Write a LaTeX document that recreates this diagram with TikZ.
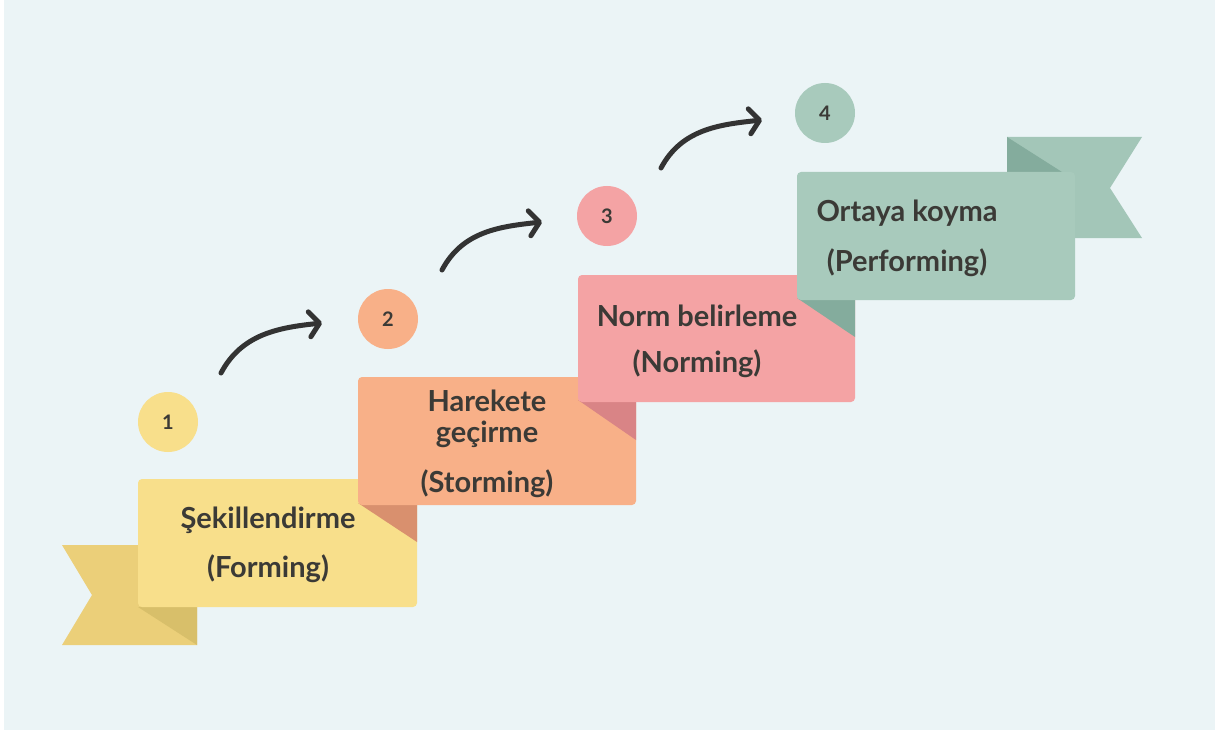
\documentclass[tikz,border=0pt]{standalone}
\usepackage{fontspec}
\newfontfamily\lato{Lato}
\usetikzlibrary{arrows.meta}
\definecolor{bg}{HTML}{EBF4F6}
\definecolor{ymain}{HTML}{F8DF8B}
\definecolor{ytail}{HTML}{EBCF79}
\definecolor{yfold}{HTML}{D8BF6A}
\definecolor{omain}{HTML}{F8B088}
\definecolor{ofold}{HTML}{D9906E}
\definecolor{pmain}{HTML}{F4A3A4}
\definecolor{pfold}{HTML}{D98486}
\definecolor{gmain}{HTML}{A8CABC}
\definecolor{gtail}{HTML}{A3C6B8}
\definecolor{gfold}{HTML}{84AC9D}
\definecolor{txt}{HTML}{3B3A36}
\definecolor{arr}{HTML}{333333}
\tikzset{
  lbl/.style={font=\lato\bfseries\fontsize{29}{32}\selectfont, text=txt, inner sep=0pt, anchor=base},
  num/.style={circle, minimum size=60pt, inner sep=0pt, font=\lato\bfseries\fontsize{20}{22}\selectfont, text=txt},
  mainrect/.style={rounded corners=4pt},
  arrowline/.style={draw=arr, line width=5pt, line cap=round, -{Straight Barb[length=10pt,width=25pt,line cap=round,line join=round]}}
}
\begin{document}
\begin{tikzpicture}[x=1pt,y=-1pt]
\useasboundingbox (0,0) rectangle (1223,730);
\fill[white] (0,0) rectangle (1223,730);
\fill[bg] (4,0) rectangle (1215,730);
% yellow ribbon
\fill[ytail] (62,545) -- (197,545) -- (197,645) -- (62,645) -- (92,595) -- cycle;
\fill[yfold] (138,607) -- (197,607) -- (197,645) -- cycle;
\fill[ymain, mainrect] (138,479) rectangle (417,607);
% orange
\fill[ofold] (358,503) -- (417,503) -- (417,542) -- cycle;
\fill[omain, mainrect] (358,377) rectangle (636,505);
% pink
\fill[pfold] (578,400) -- (636,400) -- (636,440) -- cycle;
\fill[pmain, mainrect] (578,275) rectangle (855,402);
% green
\fill[gtail] (1007,137) -- (1142,137) -- (1110,188) -- (1142,238) -- (1007,238) -- cycle;
\fill[gfold] (1007,137) -- (1007,172) -- (1062,172) -- cycle;
\fill[gfold] (797,298) -- (855,298) -- (855,337) -- cycle;
\fill[gmain, mainrect] (797,172) rectangle (1075,300);
% labels
\node[lbl] (t1a) at (268,528) {Şekillendirme};
\node[lbl] (t1b) at (268,577) {(Forming)};
\node[lbl] (t2a) at (487,411) {Harekete};
\node[lbl] (t2b) at (487,442) {geçirme};
\node[lbl] (t2c) at (487,492) {(Storming)};
\node[lbl] (t3a) at (697,326) {Norm belirleme};
\node[lbl] (t3b) at (697,372) {(Norming)};
\node[lbl] (t4a) at (907,222) {Ortaya koyma};
\node[lbl] (t4b) at (907,271) {(Performing)};
% numbers
\node[num, fill=ymain] (n1) at (168,422) {1};
\node[num, fill=omain] (n2) at (388,319) {2};
\node[num, fill=pmain] (n3) at (607,216) {3};
\node[num, fill=gmain] (n4) at (825,113) {4};
% arrows
\coordinate (a1s) at (221,373); \coordinate (a1e) at (322,323);
\coordinate (a2s) at (442,270); \coordinate (a2e) at (542,222);
\coordinate (a3s) at (661,168); \coordinate (a3e) at (762,120);
\draw[arrowline] (a1s) to[out=62,in=186] (a1e);
\draw[arrowline] (a2s) to[out=62,in=186] (a2e);
\draw[arrowline] (a3s) to[out=62,in=186] (a3e);
\end{tikzpicture}
\end{document}
